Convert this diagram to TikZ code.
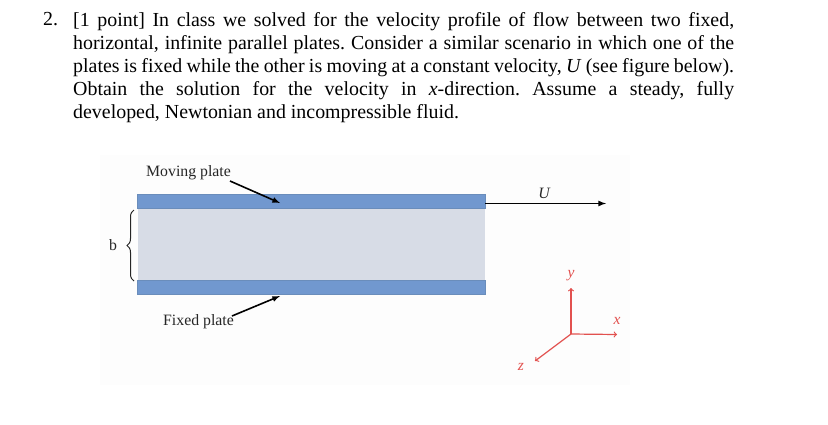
\documentclass[tikz,border=0pt]{standalone}
\usepackage{fontspec}
\setmainfont{Liberation Serif}
\usepackage{xcolor}
\usetikzlibrary{arrows,positioning,decorations.pathreplacing}
\definecolor{platecol}{HTML}{7198CF}
\definecolor{plateedge}{HTML}{6A8DBB}
\definecolor{gapcol}{HTML}{D7DCE6}
\definecolor{axiscol}{HTML}{E2514F}

\begin{document}
\begin{tikzpicture} [
      x = 1pt, y = -1pt,
      inner sep = 0,
      plate/.style = { draw = plateedge, fill = platecol, minimum width = 347.5pt, minimum height = 13.5pt },
      gap/.style = { fill = gapcol, minimum width = 347pt, minimum height = 72pt },
      label/.style = { font = \fontsize{15.8pt}{17pt}\selectfont, text = black!85 },
      axislabel/.style = { font = \fontsize{15.5pt}{17pt}\selectfont\itshape, text = axiscol },
      axis/.style = { draw = axiscol, line width = 1.2pt, -to },
      pointer/.style = { line width = 1.6pt, -latex }
      ]

      \useasboundingbox (0,0) rectangle (828,424);
      \fill [black!0.6] (100,155) rectangle (630,385);

      % question text
      \node [anchor = north west, font = \fontsize{19.9pt}{23pt}\selectfont] (num) at (43,12) {2.};
      \node [anchor = north west, text width = 661pt, align = justify, font = \fontsize{19.9pt}{23.1pt}\selectfont] (question) at (73,12) {%
        \frenchspacing
        [1 point] In class we solved for the velocity profile of flow between two fixed,\linebreak
        horizontal, infinite parallel plates. Consider a similar scenario in which one of the\linebreak
        plates is fixed while the other is moving at a constant velocity, \textit{U} (see figure below).\linebreak
        Obtain the solution for the velocity in \textit{x}-direction. Assume a steady, fully\linebreak
        developed, Newtonian and incompressible fluid.};

      % plates
      \node [gap] (fluid) at (311.5,244) {};
      \node [plate] (moving) at (311,201) {};
      \node [plate] (fixed) at (311,287) {};

      \node [label] (movinglabel) at (188.5,172.5) {Moving plate};
      \node [label] (fixedlabel) at (198.5,322) {Fixed plate};
      \node [label] (blabel) at (113,245) {b};
      \node [label, font = \fontsize{15.8pt}{17pt}\selectfont\itshape] (ulabel) at (544,193) {U};

      \coordinate (movingtip) at (280,203);
      \coordinate (movingtail) at (230,181);
      \coordinate (fixedtip) at (280,296);
      \coordinate (fixedtail) at (232,316);
      \coordinate (utip) at (606,203.5);
      \coordinate (ubase) at (485,203.5);
      \coordinate (bracetop) at (134,210);
      \coordinate (bracebot) at (134,281);

      \draw [pointer] (movingtail) -- (movingtip);
      \draw [pointer] (fixedtail) -- (fixedtip);
      \draw [pointer] (ubase) -- (utip);
      \draw [black!85, line width = 1pt, decorate, decoration = {brace, amplitude = 7pt}] (bracebot) -- (bracetop);

      % axes
      \coordinate (origin) at (571,334);
      \node [axislabel] (ylabel) at (571,276) {y};
      \node [axislabel] (xlabel) at (617,321) {x};
      \node [axislabel] (zlabel) at (521,367) {z};
      \coordinate (ytip) at (571,288);
      \coordinate (xtip) at (617,334.5);
      \coordinate (ztip) at (535,361);
      \draw [axis] (origin) -- (ytip);
      \draw [axis] (origin) -- (xtip);
      \draw [axis] (origin) -- (ztip);
  \end{tikzpicture}
\end{document}
